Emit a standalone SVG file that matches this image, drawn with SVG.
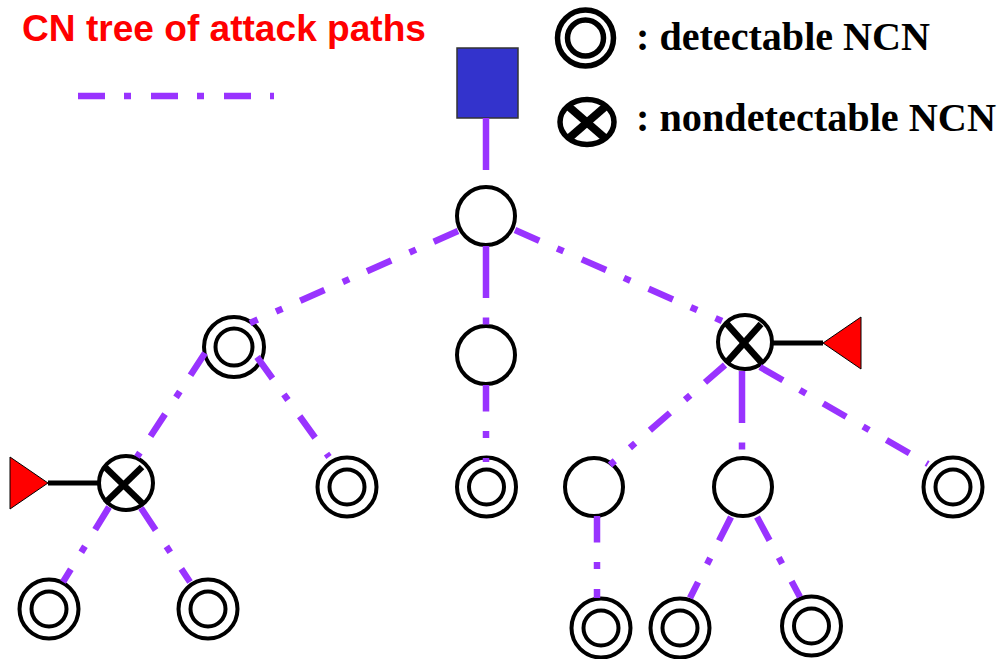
<svg xmlns="http://www.w3.org/2000/svg" width="1002" height="659" viewBox="0 0 1002 659">
  <style>
    .ring { fill: #FFFFFF; stroke: #000000; stroke-width: 4; }
    .inner { fill: none; stroke: #000000; stroke-width: 4; }
    .xmark { stroke: #000000; stroke-width: 6.5; stroke-linecap: butt; }
    .tail { stroke: #000000; stroke-width: 5; }
    .flag { fill: #FF0000; stroke: #000000; stroke-width: 1; }
    .path { fill: none; stroke: #9933FF; stroke-width: 6.5; stroke-linecap: butt; }
    .dd { stroke-dasharray: 26.5 19.5 7 20; }
    .ldd { stroke-dasharray: 52 19.5 7 19.5; }
    .title { font-family: "Liberation Sans", Arial, sans-serif; font-weight: bold; font-size: 36px; fill: #FF0000; }
    .legend { font-family: "Liberation Serif", "Times New Roman", serif; font-weight: bold; font-size: 40px; fill: #000000; }
    .key { fill: #FFFFFF; stroke: #000000; stroke-width: 5.5; }
  </style>

  <!-- heading and legend -->
  <g id="title">
    <text class="title" x="22" y="41" textLength="404" lengthAdjust="spacingAndGlyphs">CN tree of attack paths</text>
    <line class="path" x1="78" y1="96" x2="274" y2="96" style="stroke-dasharray: 27 19 7 20"/>
  </g>
  <g id="legend-detectable">
    <circle class="key" cx="585.5" cy="38" r="28"/>
    <circle class="key" cx="585.5" cy="38" r="18" style="fill:none"/>
    <text class="legend" x="636" y="49.5" textLength="294" lengthAdjust="spacingAndGlyphs">: detectable NCN</text>
  </g>
  <g id="legend-nondetectable">
    <ellipse class="key" cx="587" cy="122" rx="27" ry="22.5"/>
    <line class="xmark" x1="568" y1="106" x2="606" y2="139" style="stroke-width:8"/>
    <line class="xmark" x1="606" y1="106" x2="568" y2="139" style="stroke-width:8"/>
    <text class="legend" x="636" y="131" textLength="360" lengthAdjust="spacingAndGlyphs">: nondetectable NCN</text>
  </g>

  <!-- source -->
  <g id="source">
    <rect x="457" y="48" width="61" height="70" fill="#3333CC" stroke="#333333" stroke-width="1.5"/>
  </g>

  <!-- tree nodes -->
  <g id="n-root"><circle class="ring" cx="486" cy="216" r="29"/></g>
  <g id="n-l2-left"><circle class="ring" cx="234" cy="347" r="30"/><circle class="inner" cx="234" cy="347" r="18.5"/></g>
  <g id="n-l2-mid"><circle class="ring" cx="486" cy="355" r="29"/></g>
  <g id="n-l2-right">
    <circle class="ring" cx="745" cy="342" r="27"/>
    <line class="xmark" x1="727" y1="324" x2="761" y2="362"/>
    <line class="xmark" x1="761" y1="324" x2="727" y2="362"/>
  </g>
  <g id="n-l3-x">
    <circle class="ring" cx="126" cy="483" r="27"/>
    <line class="xmark" x1="105" y1="467" x2="142" y2="503"/>
    <line class="xmark" x1="142" y1="467" x2="105" y2="503"/>
  </g>
  <g id="n-l3-a"><circle class="ring" cx="347" cy="487" r="29.5"/><circle class="inner" cx="347" cy="487" r="17.5"/></g>
  <g id="n-l3-b"><circle class="ring" cx="486.5" cy="487" r="29.5"/><circle class="inner" cx="486.5" cy="487" r="17.5"/></g>
  <g id="n-l3-c"><circle class="ring" cx="594" cy="487" r="29"/></g>
  <g id="n-l3-d"><circle class="ring" cx="743" cy="487" r="29"/></g>
  <g id="n-l3-e"><circle class="ring" cx="953" cy="487" r="29.5"/><circle class="inner" cx="953" cy="487" r="17.5"/></g>
  <g id="n-l4-a"><circle class="ring" cx="49" cy="609" r="29.5"/><circle class="inner" cx="49" cy="609" r="17.5"/></g>
  <g id="n-l4-b"><circle class="ring" cx="208" cy="609" r="29.5"/><circle class="inner" cx="208" cy="609" r="17.5"/></g>
  <g id="n-l4-c"><circle class="ring" cx="601" cy="628" r="29.5"/><circle class="inner" cx="601" cy="628" r="17.5"/></g>
  <g id="n-l4-d"><circle class="ring" cx="680" cy="628" r="29.5"/><circle class="inner" cx="680" cy="628" r="17.5"/></g>
  <g id="n-l4-e"><circle class="ring" cx="811.5" cy="626" r="29.5"/><circle class="inner" cx="811.5" cy="626" r="17.5"/></g>

  <!-- attacker entry points -->
  <g id="entry-left">
    <line class="tail" x1="48" y1="483" x2="99" y2="483"/>
    <polygon class="flag" points="10,457 10,509 48,483"/>
  </g>
  <g id="entry-right">
    <line class="tail" x1="772" y1="343" x2="823" y2="343"/>
    <polygon class="flag" points="861,317 861,369 823,343"/>
  </g>

  <!-- attack-path connectors -->
  <g id="connectors">
    <line class="path ldd" x1="486" y1="118" x2="486" y2="187"/>
    <line class="path dd" x1="458" y1="231" x2="250" y2="323"/>
    <line class="path ldd" x1="486" y1="246" x2="486" y2="326"/>
    <line class="path dd" x1="515" y1="230" x2="722" y2="321"/>
    <line class="path dd" x1="205" y1="353" x2="137" y2="457"/>
    <line class="path dd" x1="257" y1="357" x2="329" y2="457"/>
    <line class="path dd" x1="486" y1="385" x2="486" y2="462"/>
    <line class="path dd" x1="725" y1="365" x2="610" y2="465"/>
    <line class="path ldd" x1="742" y1="371" x2="742" y2="458"/>
    <line class="path dd" x1="760" y1="367" x2="928" y2="464"/>
    <line class="path dd" x1="109" y1="507" x2="63" y2="582"/>
    <line class="path dd" x1="141" y1="508" x2="190" y2="582"/>
    <line class="path dd" x1="597" y1="516" x2="597" y2="598"/>
    <line class="path dd" x1="731" y1="517" x2="690" y2="598"/>
    <line class="path dd" x1="757" y1="517" x2="800" y2="597"/>
  </g>
</svg>
